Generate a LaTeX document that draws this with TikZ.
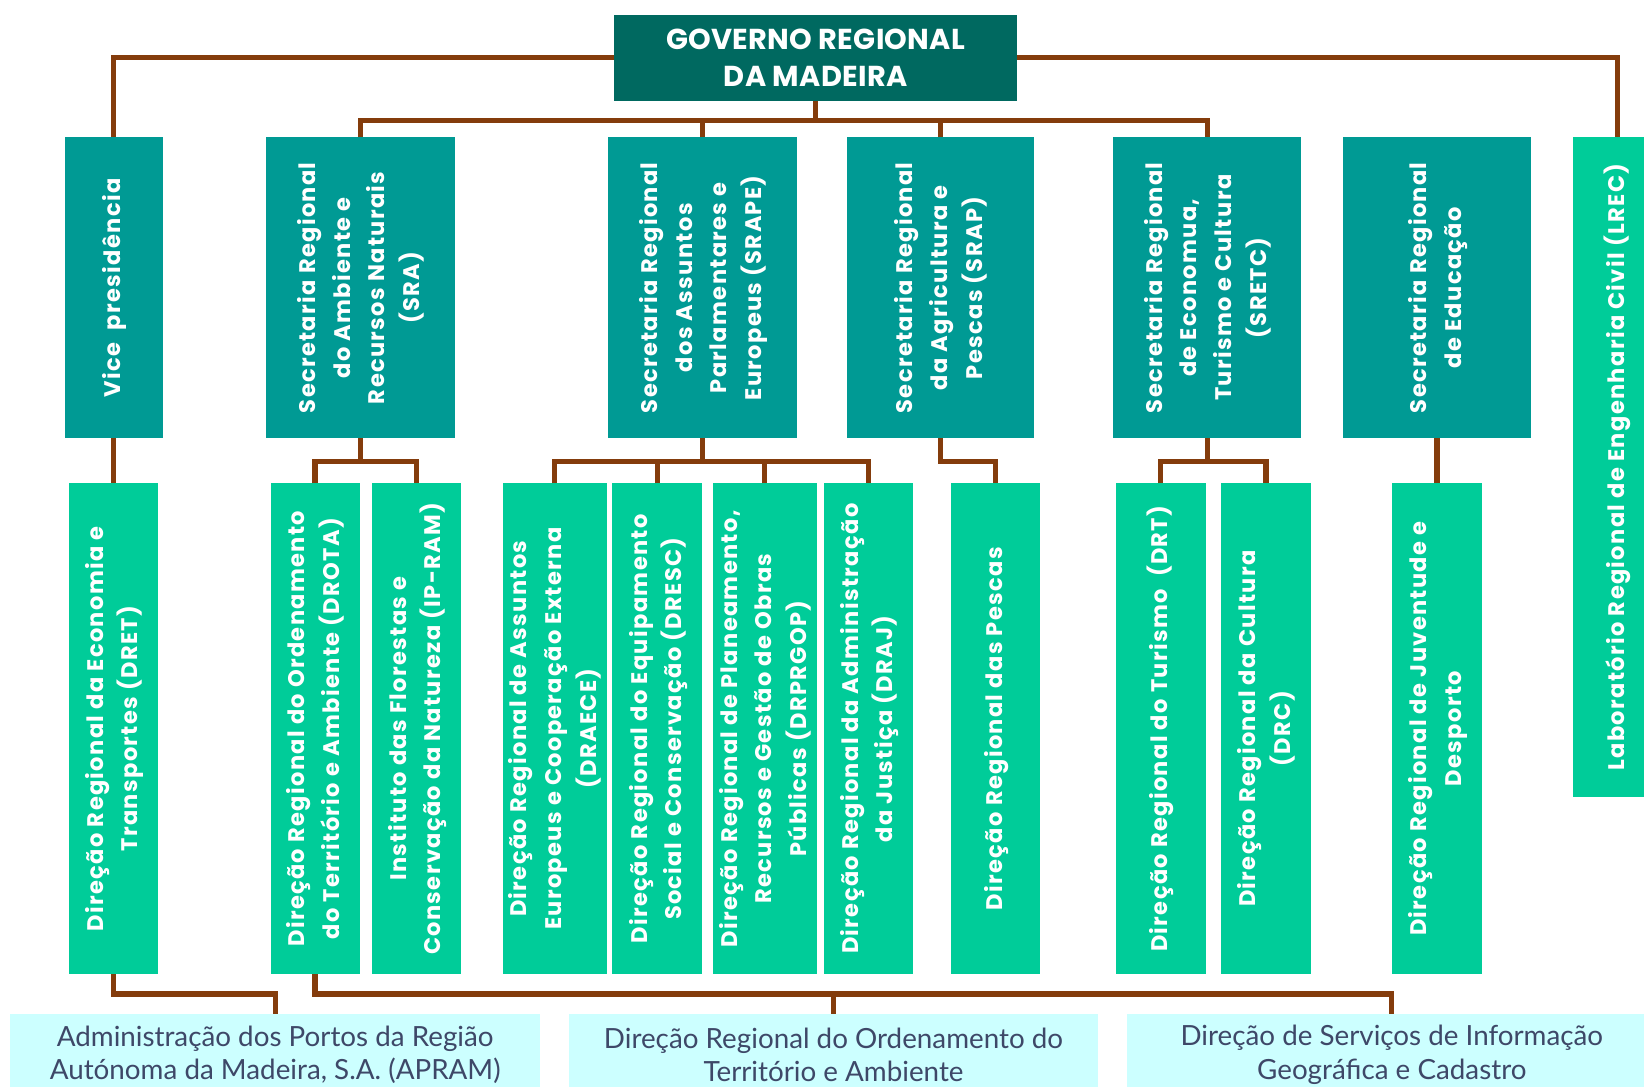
\documentclass[tikz,border=0pt]{standalone}
\usepackage{fontspec}
\setmainfont{Poppins}
\newfontfamily\grmfont[LetterSpace=1]{Poppins}
\newfontfamily\latoc{Lato}
\usepackage{graphicx}
\definecolor{grmc}{RGB}{0,105,96}
\definecolor{secc}{RGB}{0,154,148}
\definecolor{dirc}{RGB}{0,204,153}
\definecolor{botc}{RGB}{204,255,255}
\definecolor{brn}{RGB}{132,60,12}
\definecolor{bott}{RGB}{62,72,104}
\newcommand\vtext[1]{\rotatebox{90}{\fontsize{21.5}{33}\selectfont\bfseries\addfontfeature{LetterSpace=6}\begin{tabular}{@{}c@{}}#1\end{tabular}}}
\tikzset{
  box/.style={rectangle, inner sep=0pt, outer sep=0pt, text=white, anchor=center},
  grmbox/.style={box, fill=grmc, minimum width=384pt, minimum height=82pt,
    font=\grmfont\bfseries\fontsize{27.5}{36}\selectfont, align=center},
  secbox/.style={box, fill=secc, minimum height=287pt},
  dirbox/.style={box, fill=dirc, minimum height=468pt},
  botbox/.style={box, fill=botc, minimum height=78pt, minimum width=505pt,
    text=bott, font=\latoc\fontsize{26.5}{32}\selectfont, align=center},
  conn/.style={draw=brn, line width=5pt}
}
\begin{document}
\begin{tikzpicture}[x=1pt,y=-1pt]
\useasboundingbox (0,0) rectangle (1568,1036);
\fill[white] (0,0) rectangle (1568,1036);
\clip (0,0) rectangle (1568,1036);

% top
\node[grmbox] (grm) at (778,55) {GOVERNO REGIONAL\\DA MADEIRA};

% row 2
\node[secbox, minimum width=93pt] (vice) at (108.5,274.5) {\vtext{Vice\ \ presidência}};
\node[secbox, minimum width=180pt] (sra) at (344,274.5) {\vtext{Secretaria Regional\\do Ambiente e\\Recursos Naturais\\(SRA)}};
\node[secbox, minimum width=180pt] (srape) at (670,274.5) {\vtext{Secretaria Regional\\dos Assuntos\\Parlamentares e\\Europeus (SRAPE)}};
\node[secbox, minimum width=178pt] (srap) at (897,274.5) {\vtext{Secretaria Regional\\da Agricultura e\\Pescas (SRAP)}};
\node[secbox, minimum width=179pt] (sretc) at (1151.5,274.5) {\vtext{Secretaria Regional\\de Economua,\\Turismo e Cultura\\(SRETC)}};
\node[secbox, minimum width=179pt] (sre) at (1370.5,274.5) {\vtext{Secretaria Regional\\de Educação}};
\node[box, fill=dirc, minimum width=86pt, minimum height=629pt] (lrec) at (1543,445.5) {\vtext{Laboratório Regional de Engenharia Civil (LREC)}};

% row 3
\node[dirbox, minimum width=85pt] (dret) at (108.5,695) {\vtext{Direção Regional da Economia e\\Transportes (DRET)}};
\node[dirbox, minimum width=85pt] (drota) at (300.5,695) {\vtext{Direção Regional do Ordenamento\\do Território e Ambiente (DROTA)}};
\node[dirbox, minimum width=85pt] (ipram) at (397.5,695) {\vtext{Instituto das Florestas e\\Conservação da Natureza (IP-RAM)}};
\node[dirbox, minimum width=92pt] (draece) at (529,695) {\vtext{Direção Regional de Assuntos\\Europeus e Cooperação Externa\\(DRAECE)}};
\node[dirbox, minimum width=86pt] (dresc) at (627,695) {\vtext{Direção Regional do Equipamento\\Social e Conservação (DRESC)}};
\node[dirbox, minimum width=93pt] (drprgop) at (729.5,695) {\vtext{Direção Regional de Planeamento,\\Recursos e Gestão de Obras\\Públicas (DRPRGOP)}};
\node[dirbox, minimum width=85pt] (draj) at (828.5,695) {\vtext{Direção Regional da Administração\\da Justiça (DRAJ)}};
\node[dirbox, minimum width=85pt] (pescas) at (949.5,695) {\vtext{Direção Regional das Pescas}};
\node[dirbox, minimum width=86pt] (drt) at (1107,695) {\vtext{Direção Regional do Turismo\ \ (DRT)}};
\node[dirbox, minimum width=85pt] (drc) at (1207.5,695) {\vtext{Direção Regional da Cultura\\(DRC)}};
\node[dirbox, minimum width=85pt] (drjd) at (1370.5,695) {\vtext{Direção Regional de Juventude e\\Desporto}};

% row 4
\node[botbox] (apram) at (262.5,1006) {Administração dos Portos da Região\\Autónoma da Madeira, S.A. (APRAM)};
\node[botbox, minimum width=504pt] (drotab) at (795,1006) {Direção Regional do Ordenamento do\\Território e Ambiente};
\node[botbox] (dsigc) at (1327.5,1006) {Direção de Serviços de Informação\\Geográfica e Cadastro};

% buses
\coordinate (bus1) at (0,115);
\coordinate (bus2) at (0,440);
\coordinate (bus3) at (0,948);

% connectors
\draw[conn] (grm.west) -| (vice.north);
\draw[conn] (grm.east) -| (lrec.north);
\draw[conn] (grm.south) -- (grm.south |- bus1);
\draw[conn] (sra.north) |- (sretc.north |- bus1) -- (sretc.north);
\draw[conn] (srape.north) -- (srape.north |- bus1);
\draw[conn] (srap.north) -- (srap.north |- bus1);

\draw[conn] (vice.south) -- (dret.north);
\draw[conn] (sra.south) -- (sra.south |- bus2);
\draw[conn] (drota.north) |- (ipram.north |- bus2) -- (ipram.north);
\draw[conn] (srape.south) -- (srape.south |- bus2);
\draw[conn] (draece.north) |- (draj.north |- bus2) -- (draj.north);
\draw[conn] (dresc.north) -- (dresc.north |- bus2);
\draw[conn] (drprgop.north) -- (drprgop.north |- bus2);
\draw[conn] (srap.south) |- (pescas.north |- bus2) -- (pescas.north);
\draw[conn] (sretc.south) -- (sretc.south |- bus2);
\draw[conn] (drt.north) |- (drc.north |- bus2) -- (drc.north);
\draw[conn] (sre.south) -- (drjd.north);

\draw[conn] (dret.south) |- (apram.north |- bus3) -- (apram.north);
\draw[conn] (drota.south) |- (dsigc.north |- bus3) -- (dsigc.north);
\draw[conn] (drotab.north) -- (drotab.north |- bus3);
\end{tikzpicture}
\end{document}
